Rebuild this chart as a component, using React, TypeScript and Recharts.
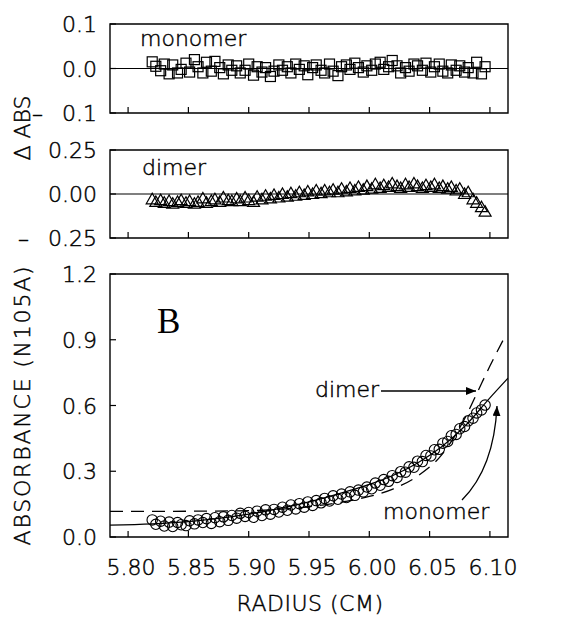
import React from 'react';
import {
  ComposedChart,
  Scatter,
  Line,
  XAxis,
  YAxis,
  ReferenceArea,
  ReferenceLine,
} from 'recharts';

// radius (cm) of each scan point
const radius = [
  5.820, 5.823, 5.827, 5.830, 5.834, 5.837, 5.841, 5.844, 5.848, 5.851,
  5.855, 5.858, 5.862, 5.865, 5.869, 5.872, 5.876, 5.879, 5.883, 5.886,
  5.890, 5.893, 5.897, 5.900, 5.904, 5.907, 5.911, 5.914, 5.918, 5.921,
  5.925, 5.928, 5.932, 5.935, 5.939, 5.942, 5.946, 5.949, 5.953, 5.956,
  5.960, 5.963, 5.967, 5.970, 5.974, 5.977, 5.981, 5.984, 5.988, 5.991,
  5.995, 5.998, 6.002, 6.005, 6.009, 6.012, 6.016, 6.019, 6.023, 6.026,
  6.030, 6.033, 6.037, 6.040, 6.044, 6.047, 6.051, 6.054, 6.058, 6.061,
  6.065, 6.068, 6.072, 6.075, 6.079, 6.082, 6.086, 6.089, 6.093, 6.096,
];

const absorbance = [
  0.078, 0.058, 0.072, 0.050, 0.068, 0.048, 0.066, 0.056, 0.052, 0.074,
  0.060, 0.078, 0.066, 0.084, 0.062, 0.088, 0.070, 0.092, 0.076, 0.098,
  0.086, 0.108, 0.094, 0.112, 0.090, 0.118, 0.098, 0.124, 0.104, 0.126,
  0.114, 0.136, 0.122, 0.146, 0.128, 0.152, 0.136, 0.160, 0.144, 0.166,
  0.156, 0.176, 0.164, 0.188, 0.172, 0.196, 0.180, 0.206, 0.190, 0.214,
  0.206, 0.228, 0.220, 0.246, 0.236, 0.262, 0.254, 0.280, 0.272, 0.298,
  0.296, 0.320, 0.318, 0.346, 0.344, 0.372, 0.370, 0.398, 0.400, 0.428,
  0.436, 0.462, 0.468, 0.494, 0.504, 0.530, 0.542, 0.566, 0.580, 0.602,
];

const monomerResidual = [
  0.015, 0.005, -0.005, 0.010, -0.012, 0.008, -0.010, -0.002, 0.012, -0.008,
  0.020, 0.004, -0.010, 0.014, -0.006, 0.016, 0.002, -0.012, 0.008, -0.004,
  0.006, -0.010, -0.004, 0.010, -0.015, 0.004, -0.008, 0.002, -0.018, -0.006,
  0.008, -0.004, 0.004, -0.010, 0.010, -0.002, 0.006, -0.014, 0.002, 0.008,
  -0.004, -0.010, 0.010, -0.006, -0.016, 0.004, 0.008, -0.002, 0.012, 0.002,
  -0.008, 0.006, -0.004, 0.010, 0.014, -0.002, 0.004, 0.018, 0.006, -0.010,
  0.002, -0.006, 0.010, 0.006, -0.004, 0.012, -0.008, 0.004, 0.010, -0.006,
  -0.010, 0.008, -0.004, 0.006, -0.008, 0.002, -0.010, 0.014, -0.012, 0.004,
];

const dimerResidual = [
  -0.030, -0.045, -0.035, -0.050, -0.040, -0.055, -0.045, -0.035, -0.050, -0.040,
  -0.055, -0.045, -0.025, -0.050, -0.040, -0.030, -0.045, -0.020, -0.035, -0.040,
  -0.025, -0.040, -0.020, -0.035, -0.045, -0.015, -0.030, -0.010, -0.025, -0.005,
  -0.020, 0.000, -0.015, 0.005, -0.010, 0.010, -0.005, 0.015, 0.000, 0.020,
  0.005, 0.020, 0.010, 0.025, 0.010, 0.030, 0.015, 0.035, 0.020, 0.040,
  0.025, 0.045, 0.030, 0.055, 0.035, 0.050, 0.040, 0.060, 0.045, 0.035,
  0.055, 0.040, 0.060, 0.045, 0.035, 0.050, 0.040, 0.055, 0.035, 0.045,
  0.030, 0.040, 0.020, 0.030, 0.000, 0.010, -0.030, -0.050, -0.075, -0.100,
];

// fitted curves
const monomerFitRadius = [5.785, 5.82, 5.85, 5.88, 5.9, 5.92, 5.95, 5.98, 6.0, 6.02, 6.04, 6.06, 6.08, 6.1, 6.115];
const monomerFitAbs = [0.054, 0.06, 0.07, 0.088, 0.104, 0.124, 0.16, 0.206, 0.24, 0.282, 0.338, 0.412, 0.51, 0.635, 0.725];
const dimerFitRadius = [5.785, 5.82, 5.86, 5.9, 5.93, 5.95, 5.98, 6.0, 6.02, 6.04, 6.06, 6.08, 6.09, 6.1, 6.113];
const dimerFitAbs = [0.117, 0.117, 0.118, 0.12, 0.128, 0.138, 0.162, 0.185, 0.22, 0.278, 0.375, 0.55, 0.665, 0.78, 0.92];

const radiusTicks = [5.8, 5.85, 5.9, 5.95, 6.0, 6.05, 6.1];
const monomerTicks = [-0.1, 0, 0.1];
const dimerTicks = [-0.25, 0, 0.25];
const absTicks = [0, 0.3, 0.6, 0.9, 1.2];

const W = 569;
const H = 617;
const X_DOMAIN: [number, number] = [5.785, 6.115];
const FONT = '"DejaVu Sans", sans-serif';
const TXT = {
  fontFamily: FONT,
  fontSize: 22,
  fill: '#000',
  fontWeight: 300,
  stroke: '#000',
  strokeWidth: 0.45,
} as const;

const pairs = (xs: number[], ys: number[]) => xs.map((x, i) => ({ x, y: ys[i] }));

const XTick = ({ x, y, payload, showLabel }: any) => (
  <g>
    <line x1={x} x2={x} y1={y} y2={y - 6} stroke="#000" strokeWidth={1.2} />
    {showLabel && (
      <text x={x + 3} y={y + 38} textAnchor="middle" {...TXT}>
        {payload.value.toFixed(2)}
      </text>
    )}
  </g>
);

const YTick = ({ x, y, payload, digits }: any) => {
  const v = payload.value;
  const num = Math.abs(v).toFixed(digits);
  return (
    <g>
      <line x1={x} x2={x + 6} y1={y} y2={y} stroke="#000" strokeWidth={1.2} />
      <text x={x - 13} y={y + 8} textAnchor="end" {...TXT}>
        {v < 0 ? <tspan>–</tspan> : null}
        <tspan dx={v < 0 ? 19 : 0}>{num}</tspan>
      </text>
    </g>
  );
};

const Square = ({ cx, cy }: any) => (
  <rect x={cx - 5} y={cy - 5} width={10} height={10} fill="none" stroke="#000" strokeWidth={1.2} />
);
const Triangle = ({ cx, cy }: any) => (
  <path d={`M${cx - 6},${cy + 4.5} L${cx + 6},${cy + 4.5} L${cx},${cy - 6} Z`} fill="none" stroke="#000" strokeWidth={1.2} />
);
const Circle = ({ cx, cy }: any) => (
  <circle cx={cx} cy={cy} r={5.2} fill="none" stroke="#000" strokeWidth={1.1} />
);

function Panel({ top, bottom, ticks, digits, domain, showXLabels, children }: any) {
  return (
    <div style={{ position: 'absolute', left: 0, top: 0 }}>
      <ComposedChart
        width={W}
        height={H}
        margin={{ top, right: 61, bottom: H - bottom - 30, left: 0 }}
      >
        <XAxis
          type="number"
          dataKey="x"
          domain={X_DOMAIN}
          ticks={radiusTicks}
          allowDataOverflow
          interval={0}
          height={30}
          axisLine={false}
          tickLine={false}
          tickSize={0}
          tickMargin={0}
          tick={(p: any) => <XTick {...p} showLabel={showXLabels} />}
        />
        <YAxis
          type="number"
          dataKey="y"
          domain={domain}
          ticks={ticks}
          allowDataOverflow
          interval={0}
          width={110}
          axisLine={false}
          tickLine={false}
          tickSize={0}
          tickMargin={0}
          tick={(p: any) => <YTick {...p} digits={digits} />}
        />
        <ReferenceArea
          x1={X_DOMAIN[0]}
          x2={X_DOMAIN[1]}
          y1={domain[0]}
          y2={domain[1]}
          fill="none"
          stroke="#000"
          strokeWidth={1.4}
          fillOpacity={0}
        />
        {children}
      </ComposedChart>
    </div>
  );
}

export default function App() {
  return (
    <div style={{ position: 'absolute', left: 0, top: 0, width: W, height: H, background: '#fff' }}>
      <Panel top={24} bottom={113} ticks={monomerTicks} digits={1} domain={[-0.1, 0.1]}>
        <ReferenceLine y={0} stroke="#000" strokeWidth={1.2} />
        <Scatter
          data={pairs(radius, monomerResidual)}
          shape={(p: any) => <Square {...p} />}
          isAnimationActive={false}
        />
      </Panel>
      <Panel top={150} bottom={238} ticks={dimerTicks} digits={2} domain={[-0.25, 0.25]}>
        <ReferenceLine y={0} stroke="#000" strokeWidth={1.2} />
        <Scatter
          data={pairs(radius, dimerResidual)}
          shape={(p: any) => <Triangle {...p} />}
          isAnimationActive={false}
        />
      </Panel>
      <Panel top={274} bottom={537} ticks={absTicks} digits={1} domain={[0, 1.2]} showXLabels>
        <Line
          data={pairs(dimerFitRadius, dimerFitAbs)}
          dataKey="y"
          type="monotone"
          dot={false}
          stroke="#000"
          strokeWidth={1.3}
          strokeDasharray="13 8"
          isAnimationActive={false}
        />
        <Line
          data={pairs(monomerFitRadius, monomerFitAbs)}
          dataKey="y"
          type="monotone"
          dot={false}
          stroke="#000"
          strokeWidth={1.2}
          isAnimationActive={false}
        />
        <Scatter
          data={pairs(radius, absorbance)}
          shape={(p: any) => <Circle {...p} />}
          isAnimationActive={false}
        />
      </Panel>
      <svg
        width={W}
        height={H}
        style={{ position: 'absolute', left: 0, top: 0, pointerEvents: 'none' }}
      >
        <defs>
          <marker id="ah" viewBox="0 0 10 8" refX="10" refY="4" markerWidth="10" markerHeight="8" markerUnits="userSpaceOnUse" orient="auto">
            <path d="M0,0 L10,4 L0,8 Z" fill="#000" />
          </marker>
        </defs>
        <text transform="translate(22,128) rotate(-90)" textAnchor="middle" dominantBaseline="central" {...TXT}>
          Δ ABS
        </text>
        <text transform="translate(22,405) rotate(-90)" textAnchor="middle" dominantBaseline="central" letterSpacing={1.8} {...TXT}>
          ABSORBANCE (N105A)
        </text>
        <text x={310} y={611} textAnchor="middle" letterSpacing={0.5} {...TXT}>
          RADIUS (CM)
        </text>
        <text x={140} y={46} {...TXT}>monomer</text>
        <text x={142} y={175} {...TXT}>dimer</text>
        <text x={157} y={333} fontFamily='"Liberation Serif", serif' fontSize={35} fill="#000">B</text>
        <text x={315} y={397} {...TXT}>dimer</text>
        <line x1={381} y1={391} x2={476} y2={391} stroke="#000" strokeWidth={1.3} markerEnd="url(#ah)" />
        <text x={383} y={519} {...TXT}>monomer</text>
        <path d="M462,500 Q494,468 497,406" fill="none" stroke="#000" strokeWidth={1.3} markerEnd="url(#ah)" />
      </svg>
    </div>
  );
}
